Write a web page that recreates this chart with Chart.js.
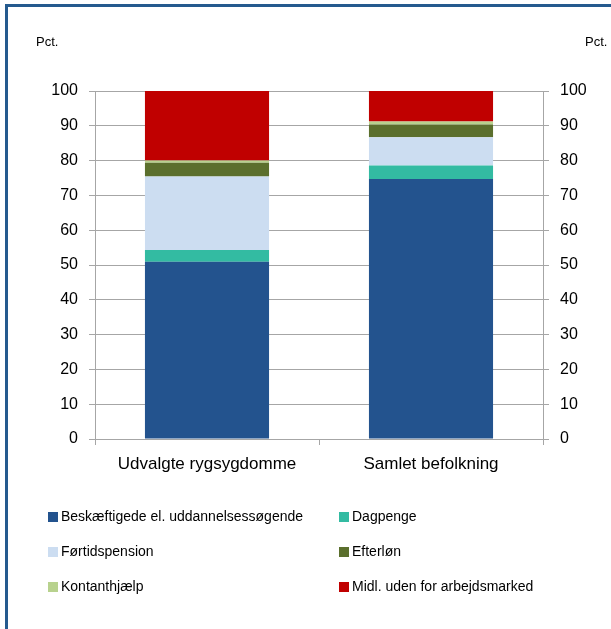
<!DOCTYPE html>
<html>
<head>
<meta charset="utf-8">
<script src="https://cdn.jsdelivr.net/npm/chart.js@4/dist/chart.umd.min.js"></script>
<style>
  html, body { margin: 0; padding: 0; background: #fff; }
  #wrap { width: 611px; height: 629px; position: relative; }
</style>
</head>
<body>
<div id="wrap"><canvas id="c" width="611" height="629"></canvas></div>
<script>
// Categories and the share (pct.) of each group in every status
const categories = ['Udvalgte rygsygdomme', 'Samlet befolkning'];
const beskaeftigede = [50.9, 74.7];
const dagpenge = [3.4, 3.9];
const foertidspension = [21.1, 8.1];
const efterloen = [4.0, 3.7];
const kontanthjaelp = [0.6, 0.8];
const midlUden = [20.0, 8.8];
const seriesNames = [
  'Beskæftigede el. uddannelsessøgende', 'Dagpenge', 'Førtidspension',
  'Efterløn', 'Kontanthjælp', 'Midl. uden for arbejdsmarked'
];
const yTicks = [0, 10, 20, 30, 40, 50, 60, 70, 80, 90, 100];

const colors = ['#23538E', '#33BBA2', '#CCDDF1', '#5B6F2D', '#B8D28E', '#C00000'];
const values = [beskaeftigede, dagpenge, foertidspension, efterloen, kontanthjaelp, midlUden];

const FONT = 'Liberation Sans, Arial, sans-serif';
const GRID = '#A6A6A6';

// Outer frame and unit labels
const framePlugin = {
  id: 'frame',
  beforeDraw(chart) {
    const ctx = chart.ctx;
    ctx.save();
    ctx.fillStyle = '#fff';
    ctx.fillRect(0, 0, chart.width, chart.height);
    ctx.strokeStyle = '#255A8E';
    ctx.lineWidth = 3;
    ctx.strokeRect(6.5, 5.5, chart.width + 20, chart.height + 20);
    ctx.fillStyle = '#000';
    ctx.font = '13px ' + FONT;
    ctx.textBaseline = 'middle';
    ctx.textAlign = 'left';
    ctx.fillText('Pct.', 36, 42);
    ctx.fillText('Pct.', 585, 42);
    ctx.restore();
  }
};

// Two-column legend below the chart
const legendPlugin = {
  id: 'gridLegend',
  afterDraw(chart) {
    const ctx = chart.ctx;
    const colX = [48, 339];
    const rowY = [517, 552, 587];
    ctx.save();
    ctx.font = '14px ' + FONT;
    ctx.textBaseline = 'middle';
    ctx.textAlign = 'left';
    chart.data.datasets.forEach((ds, i) => {
      const x = colX[i % 2];
      const y = rowY[Math.floor(i / 2)];
      ctx.fillStyle = ds.backgroundColor;
      ctx.fillRect(x, y - 5, 10, 10);
      ctx.fillStyle = '#000';
      ctx.fillText(ds.label, x + 13, y);
    });
    ctx.restore();
  }
};

const datasets = seriesNames.map((name, i) => ({
  label: name,
  data: values[i],
  backgroundColor: colors[i],
  borderWidth: 0,
  categoryPercentage: 1.0,
  barPercentage: 0.554
}));

new Chart(document.getElementById('c'), {
  type: 'bar',
  data: { labels: categories, datasets },
  options: {
    responsive: false,
    animation: false,
    layout: { padding: { top: 91, left: 0, right: 0, bottom: 0 } },
    plugins: { legend: { display: false }, tooltip: { enabled: false } },
    scales: {
      x: {
        stacked: true,
        grid: { offset: true, drawOnChartArea: false, drawTicks: true, tickLength: 6, color: GRID, lineWidth: 1 },
        border: { color: GRID, width: 1 },
        ticks: { color: '#000', font: { family: FONT, size: 17 }, padding: 9 },
        afterFit(s) { s.height = 190; }
      },
      y: {
        stacked: true,
        position: 'left',
        min: 0, max: 100,
        afterBuildTicks(s) { s.ticks = yTicks.map(v => ({ value: v })); },
        grid: { color: GRID, lineWidth: 1, tickLength: 6 },
        border: { color: GRID, width: 1 },
        ticks: { color: '#000', font: { family: FONT, size: 16 }, padding: 11 },
        afterFit(s) { s.width = 95; }
      },
      y2: {
        position: 'right',
        min: 0, max: 100,
        afterBuildTicks(s) { s.ticks = yTicks.map(v => ({ value: v })); },
        grid: { drawOnChartArea: false, color: GRID, lineWidth: 1, tickLength: 6 },
        border: { color: GRID, width: 1 },
        ticks: { color: '#000', font: { family: FONT, size: 16 }, padding: 11 },
        afterFit(s) { s.width = 68; }
      }
    }
  },
  plugins: [framePlugin, legendPlugin]
});
</script>
</body>
</html>
